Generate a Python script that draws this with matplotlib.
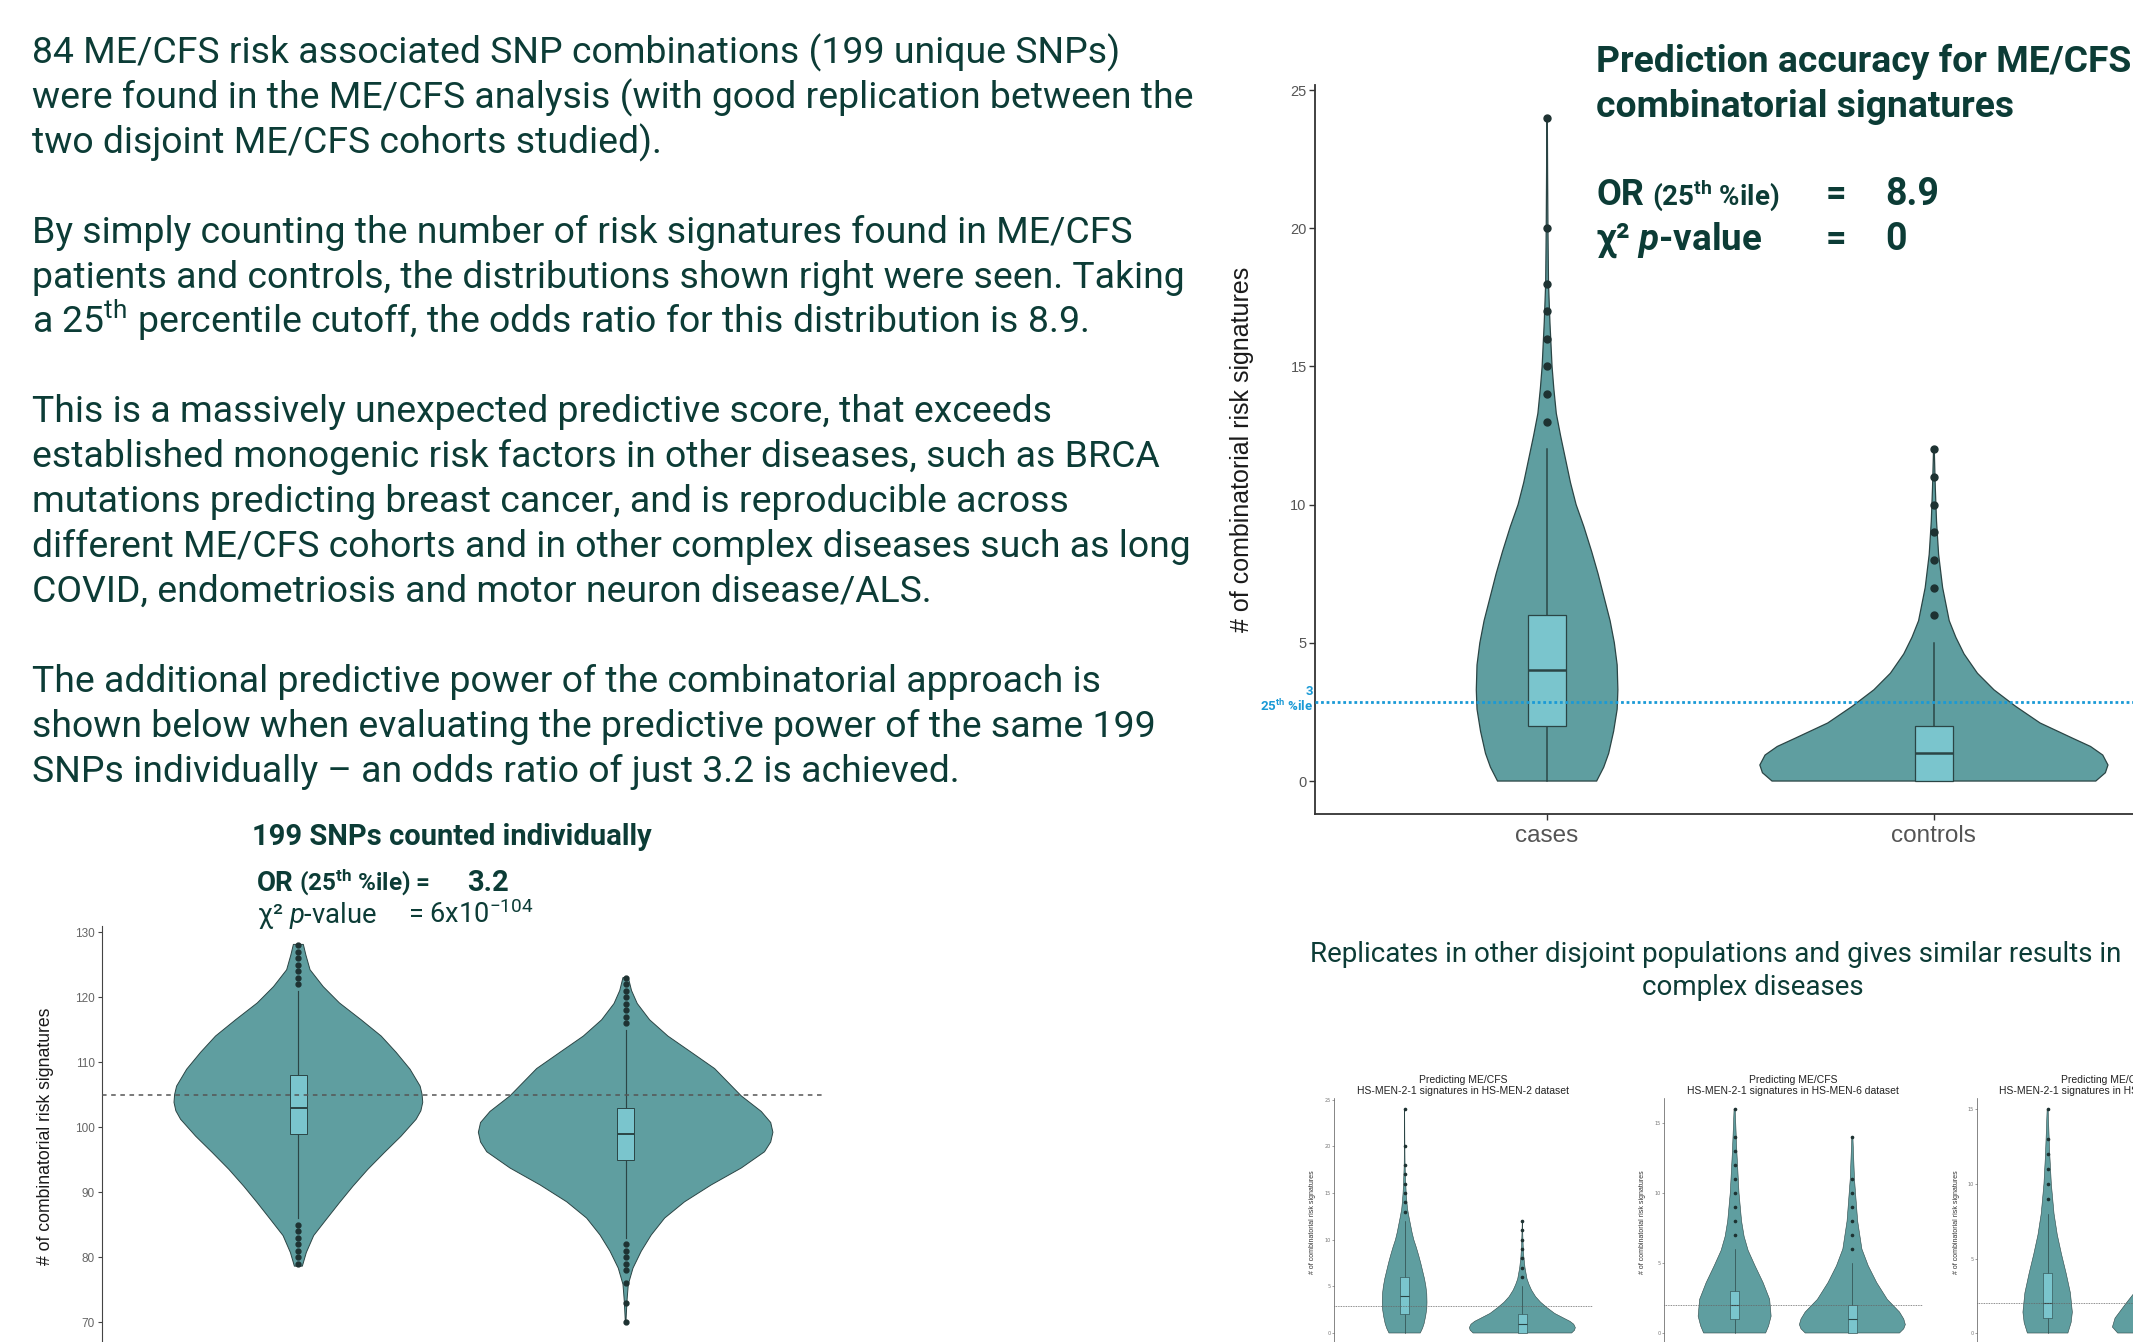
import numpy as np
import matplotlib
matplotlib.use('Agg')
import matplotlib.pyplot as plt
from matplotlib.patches import Rectangle

W, H = 2133, 1342

# ---- main chart: HS-MEN-2-1 signatures in HS-MEN-2 dataset ----
categories = ['cases', 'controls']
cases_v = [0, 0.5, 1.0, 1.8, 2.6, 3.3, 4.2, 5.0, 5.8, 6.6, 7.5, 8.3, 9.2, 10.0,
           10.8, 11.65, 12.5, 13.3, 14.2, 15.0, 16.6, 18.0, 20.0, 22.0, 24.0]
cases_w = [0.70, 0.80, 0.87, 0.94, 0.99, 1.0, 0.99, 0.95, 0.89, 0.81, 0.72, 0.63,
           0.52, 0.41, 0.33, 0.26, 0.19, 0.13, 0.095, 0.07, 0.04, 0.02, 0.012,
           0.007, 0.003]
cases_box = [2, 4, 6, 0, 12]          # q1, median, q3, whisker low, whisker high
cases_out = [13, 14, 15, 16, 17, 18, 20, 24]
controls_v = [0, 0.3, 0.58, 0.94, 1.25, 1.54, 2.1, 2.7, 3.3, 3.9, 4.6, 5.2, 5.8,
              7.0, 8.2, 9.4, 10.6, 12.0]
controls_w = [0.93, 0.985, 1.0, 0.97, 0.90, 0.80, 0.61, 0.47, 0.345, 0.25, 0.173,
              0.126, 0.088, 0.05, 0.027, 0.015, 0.008, 0.002]
controls_box = [0, 1, 2, 0, 5]
controls_out = [6, 7, 8, 9, 10, 11, 12]
cutoff_main = 2.86

# ---- 199 SNPs counted individually ----
snp_cases_v = [78.6, 80.7, 83.3, 85.8, 88.4, 90.9, 93.5, 96.1, 98.6, 101.2, 102.5,
               103.8, 105.0, 106.3, 108.9, 111.5, 114.0, 116.5, 119.1, 121.6,
               124.2, 126.5, 128.1]
snp_cases_w = [0.032, 0.064, 0.123, 0.225, 0.332, 0.439, 0.559, 0.693, 0.826, 0.947,
               0.985, 1.0, 0.995, 0.979, 0.898, 0.786, 0.666, 0.505, 0.33, 0.20,
               0.094, 0.06, 0.04]
snp_cases_box = [99, 103, 108, 86, 121]
snp_cases_out = [79, 80, 81, 82, 83, 84, 85, 122, 123, 124, 125, 126, 127, 128]
snp_controls_v = [70, 73.2, 75.8, 78.3, 80.9, 83.4, 86.0, 88.5, 91.1, 93.7, 96.2,
                  97.7, 99.2, 100.7, 102.4, 104.8, 109.0, 111.5, 114.0, 116.5,
                  119.0, 121.0, 123.0]
snp_controls_w = [0.002, 0.009, 0.018, 0.05, 0.106, 0.174, 0.265, 0.40, 0.581, 0.785,
                  0.943, 0.985, 1.0, 0.985, 0.921, 0.785, 0.604, 0.446, 0.287,
                  0.163, 0.079, 0.04, 0.018]
snp_controls_box = [95, 99, 103, 83, 115]
snp_controls_out = [70, 73, 76, 78, 79, 80, 81, 82, 116, 117, 118, 119, 120, 121,
                    122, 123]
cutoff_snp = 105

# ---- small panels: HS-MEN-6 and third dataset ----
m6_cases_v = [0, 0.5, 1.2, 2.4, 3.6, 4.8, 5.9, 6.9, 8.0, 10.0, 13.0, 16.0]
m6_cases_w = [0.85, 0.93, 1.0, 0.96, 0.78, 0.56, 0.37, 0.26, 0.19, 0.12, 0.06, 0.015]
m6_cases_box = [1, 2, 3, 0, 6]
m6_cases_out = [7, 8, 9, 10, 11, 12, 13, 14, 16]
m6_controls_v = [0, 0.3, 0.6, 1.0, 1.5, 2.4, 3.6, 4.8, 6.0, 8.0, 11.0, 14.0]
m6_controls_w = [0.89, 0.97, 1.0, 0.97, 0.89, 0.66, 0.46, 0.30, 0.18, 0.10, 0.04, 0.01]
m6_controls_box = [0, 1, 2, 0, 5]
m6_controls_out = [6, 7, 8, 9, 10, 11, 14]
m3_cases_v = [0, 0.7, 1.4, 2.7, 4.0, 5.3, 6.6, 8.0, 10.0, 12.0, 15.0]
m3_cases_w = [0.82, 0.95, 1.0, 0.92, 0.75, 0.56, 0.39, 0.26, 0.15, 0.086, 0.02]
m3_cases_box = [1, 2, 4, 0, 8]
m3_cases_out = [9, 10, 11, 12, 13, 15]
m3_controls_v = [0, 0.4, 1.0, 2.0, 3.0, 4.5, 6.0, 8.0, 10.0, 12.0]
m3_controls_w = [0.9, 1.0, 0.95, 0.74, 0.52, 0.3, 0.17, 0.09, 0.04, 0.01]

body_lines = [
    "84 ME/CFS risk associated SNP combinations (199 unique SNPs)",
    "were found in the ME/CFS analysis (with good replication between the",
    "two disjoint ME/CFS cohorts studied).",
    "",
    "By simply counting the number of risk signatures found in ME/CFS",
    "patients and controls, the distributions shown right were seen. Taking",
    "a 25$^{\\mathrm{th}}$ percentile cutoff, the odds ratio for this distribution is 8.9.",
    "",
    "This is a massively unexpected predictive score, that exceeds",
    "established monogenic risk factors in other diseases, such as BRCA",
    "mutations predicting breast cancer, and is reproducible across",
    "different ME/CFS cohorts and in other complex diseases such as long",
    "COVID, endometriosis and motor neuron disease/ALS.",
    "",
    "The additional predictive power of the combinatorial approach is",
    "shown below when evaluating the predictive power of the same 199",
    "SNPs individually \u2013 an odds ratio of just 3.2 is achieved.",
]

TEAL = '#0c3c36'
FILL = '#5f9ea0'
BOXC = '#7ac5cd'
EDGE = '#2b4545'
DOT = '#1e3232'
BLUE = '#1a9ad6'
GGFONT = 'Liberation Sans'

plt.rcParams['mathtext.fontset'] = 'custom'
plt.rcParams['mathtext.rm'] = 'Roboto'
plt.rcParams['mathtext.it'] = 'Roboto:italic'
plt.rcParams['mathtext.bf'] = 'Roboto:bold'
BFIT = '\\mathbf'
if 'mathtext.bfit' in plt.rcParams:
    plt.rcParams['mathtext.bfit'] = 'Roboto:italic:bold'
    BFIT = '\\mathbfit'


def fx(x):
    return x / W


def fy(y):
    return 1 - y / H


def axes_px(fig, left, top, right, bottom):
    ax = fig.add_axes([left / W, 1 - bottom / H, (right - left) / W,
                       (bottom - top) / H])
    ax.set_facecolor('none')
    for s in ['top', 'right']:
        ax.spines[s].set_visible(False)
    return ax


def violin(ax, pos, vals, rel, half, box, out, bw, lw, ms):
    v = np.asarray(vals, float)
    w = np.asarray(rel, float) * half
    ax.fill(np.r_[pos - w, (pos + w)[::-1]], np.r_[v, v[::-1]],
            facecolor=FILL, edgecolor=EDGE, lw=lw, zorder=2)
    if box is not None:
        q1, med, q3, lo, hi = box
        ax.plot([pos, pos], [lo, q1], color=EDGE, lw=lw * 1.2, zorder=3)
        ax.plot([pos, pos], [q3, hi], color=EDGE, lw=lw * 1.2, zorder=3)
        ax.add_patch(Rectangle((pos - bw / 2, q1), bw, q3 - q1, facecolor=BOXC,
                               edgecolor=EDGE, lw=lw, zorder=4))
        ax.plot([pos - bw / 2, pos + bw / 2], [med, med], color=EDGE,
                lw=lw * 2, zorder=5, solid_capstyle='butt')
    if out:
        ax.plot([pos] * len(out), out, 'o', color=DOT, ms=ms, zorder=6)


def txt(fig, x, y, s, size, weight='normal', color=TEAL, family='Roboto', **kw):
    return fig.text(fx(x), fy(y), s, fontsize=size, weight=weight, color=color,
                    family=family, va=kw.pop('va', 'baseline'), **kw)


fig = plt.figure(figsize=(W / 100, H / 100), dpi=100)
fig.patch.set_facecolor('white')

# ---- body text ----
for i, line in enumerate(body_lines):
    if line:
        txt(fig, 32, 63.3 + 44.9 * i, line, 26.9)

# ---- main violin chart ----
ax = axes_px(fig, 1315, 84.5, 2166, 814.2)
ax.set_xlim(0.4, 2.6)
ax.set_ylim(-1.2, 25.2)
violin(ax, 1, cases_v, cases_w, 0.183, cases_box, cases_out, 0.1, 0.9, 5)
violin(ax, 2, controls_v, controls_w, 0.45, controls_box, controls_out, 0.1, 0.9, 5)
ax.axhline(cutoff_main, color=BLUE, lw=2, ls=(0, (1, 1)), zorder=7)
ax.set_yticks([0, 5, 10, 15, 20, 25])
ax.set_xticks([1, 2])
ax.set_xticklabels(categories)
ax.tick_params(axis='y', length=4, width=1, color='#333333', labelcolor='#555555',
               labelsize=10.5, pad=2)
ax.tick_params(axis='x', length=4, width=1, color='#333333', labelcolor='#555555',
               labelsize=17.5, pad=4)
for lab in ax.get_xticklabels() + ax.get_yticklabels():
    lab.set_family(GGFONT)
for s in ['left', 'bottom']:
    ax.spines[s].set_color('#333333')
    ax.spines[s].set_linewidth(1.3)
txt(fig, 1242, 449, '# of combinatorial risk signatures', 18, color='#1a1a1a',
    family=GGFONT, rotation=90, ha='center', va='center')
txt(fig, 1313, 695, '3', 9.5, weight='bold', color=BLUE, ha='right')
txt(fig, 1313, 711, '25$^{\\mathbf{th}}$ %ile', 9.5, weight='bold', color=BLUE,
    ha='right')

# ---- main titles ----
txt(fig, 1596, 72, 'Prediction accuracy for ME/CFS', 26.8, weight='bold')
txt(fig, 1596, 117, 'combinatorial signatures', 26.8, weight='bold')
txt(fig, 1596, 205, 'OR', 26, weight='bold')
txt(fig, 1652, 205, '(25$^{\\mathbf{th}}$ %ile)', 20, weight='bold')
txt(fig, 1826, 205, '=', 26, weight='bold')
txt(fig, 1885, 205, '8.9', 27, weight='bold')
txt(fig, 1596, 250, '\u03c7\u00b2 $' + BFIT + '{p}$-value', 26.5, weight='bold')
txt(fig, 1826, 250, '=', 26, weight='bold')
txt(fig, 1885, 250, '0', 27, weight='bold')

# ---- 199 SNPs individually ----
txt(fig, 252, 845, '199 SNPs counted individually', 21, weight='bold')
txt(fig, 257, 891, 'OR', 20, weight='bold')
txt(fig, 299, 891, '(25$^{\\mathbf{th}}$ %ile) =', 17.5, weight='bold')
txt(fig, 467, 891, '3.2', 21, weight='bold')
txt(fig, 257, 923, '\u03c7\u00b2 $\\mathit{p}$-value', 19.7)
txt(fig, 408, 923, '= 6x10$^{\\mathregular{-104}}$', 19.5)

ax2 = axes_px(fig, 102, 926.2, 822, 1340.9)
ax2.set_xlim(0.4, 2.6)
ax2.set_ylim(67.1, 130.9)
violin(ax2, 1, snp_cases_v, snp_cases_w, 0.38, snp_cases_box, snp_cases_out,
       0.05, 0.7, 3.5)
violin(ax2, 2, snp_controls_v, snp_controls_w, 0.45, snp_controls_box,
       snp_controls_out, 0.05, 0.7, 3.5)
ax2.axhline(cutoff_snp, color='#555555', lw=1.1, ls=(0, (3, 3)), zorder=7)
ax2.set_yticks([70, 80, 90, 100, 110, 120, 130])
ax2.set_xticks([])
ax2.spines['bottom'].set_visible(False)
ax2.spines['left'].set_color('#444444')
ax2.tick_params(axis='y', length=3, width=0.8, color='#444444',
                labelcolor='#666666', labelsize=8.5, pad=2)
for lab in ax2.get_yticklabels():
    lab.set_family(GGFONT)
txt(fig, 46, 1136, '# of combinatorial risk signatures', 12.7, color='#1a1a1a',
    family=GGFONT, rotation=90, ha='center', va='center')

# ---- replication caption ----
txt(fig, 1310, 962, 'Replicates in other disjoint populations and gives similar '
    'results in', 20)
txt(fig, 1753, 995, 'complex diseases', 20, ha='center')

# ---- small replication panels ----
panels = [
    dict(left=1334, top=1097.9, right=1593, ylim=(-1.2, 25.2),
         ticks=[0, 5, 10, 15, 20, 25], center=1463, label_x=1312,
         title='HS-MEN-2-1 signatures in HS-MEN-2 dataset',
         violins=[(1, cases_v, cases_w, 0.19, cases_box, cases_out),
                  (2, controls_v, controls_w, 0.45, controls_box, controls_out)],
         cut=cutoff_main),
    dict(left=1664, top=1097.8, right=1923, ylim=(-0.8, 16.8),
         ticks=[0, 5, 10, 15], center=1793, label_x=1642,
         title='HS-MEN-2-1 signatures in HS-MEN-6 dataset',
         violins=[(1, m6_cases_v, m6_cases_w, 0.31, m6_cases_box, m6_cases_out),
                  (2, m6_controls_v, m6_controls_w, 0.45, m6_controls_box,
                   m6_controls_out)],
         cut=2),
    dict(left=1977, top=1098.3, right=2236, ylim=(-0.75, 15.75),
         ticks=[0, 5, 10, 15], center=2105, label_x=1956,
         title='HS-MEN-2-1 signatures in HS-MEN-3 dataset',
         violins=[(1, m3_cases_v, m3_cases_w, 0.21, m3_cases_box, m3_cases_out),
                  (2, m3_controls_v, m3_controls_w, 0.45, None, [])],
         cut=2),
]
for p in panels:
    a = axes_px(fig, p['left'], p['top'], p['right'], 1344.2)
    a.set_xlim(0.4, 2.6)
    a.set_ylim(*p['ylim'])
    for pos, v, w, half, box, out in p['violins']:
        violin(a, pos, v, w, half, box, out, 0.075, 0.4, 1.6)
    a.axhline(p['cut'], color='#666666', lw=0.6, ls=(0, (1, 1)), zorder=7)
    a.set_yticks(p['ticks'])
    a.set_xticks([])
    a.spines['bottom'].set_visible(False)
    a.spines['left'].set_linewidth(0.5)
    a.spines['left'].set_color('#555555')
    a.tick_params(axis='y', length=1.5, width=0.4, color='#555555',
                  labelcolor='#777777', labelsize=3.5, pad=1)
    txt(fig, p['center'], 1083, 'Predicting ME/CFS', 7.5, color='#222222',
        family=GGFONT, ha='center')
    txt(fig, p['center'], 1094.5, p['title'], 7.5, color='#222222',
        family=GGFONT, ha='center')
    txt(fig, p['label_x'], 1222, '# of combinatorial risk signatures', 5,
        color='#333333', family=GGFONT, rotation=90, ha='center', va='center')

fig.savefig('out.png', dpi=100, facecolor='white')
